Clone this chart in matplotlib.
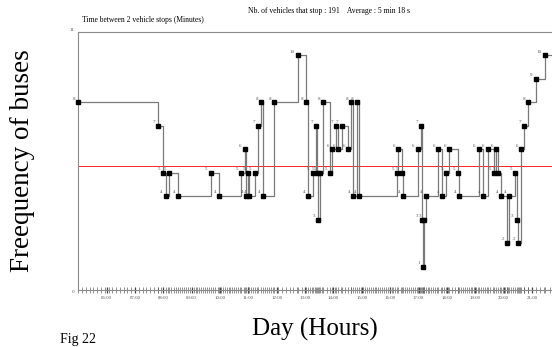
import numpy as np
import matplotlib
matplotlib.use("Agg")
import matplotlib.pyplot as plt

# ---------------- data ----------------
# time of each change, and the interval (minutes) between 2 vehicle stops from then on
CHANGE_TIMES = [
    "05:00", "07:49", "08:00", "08:05", "08:12", "08:32", "09:40", "09:58",
    "10:45", "10:52", "10:55", "10:59", "11:02", "11:13", "11:20", "11:27",
    "11:31", "11:55", "12:44", "13:02", "13:07", "13:16", "13:23", "13:25",
    "13:27", "13:31", "13:38", "13:53", "13:57", "14:05", "14:10", "14:17",
    "14:31", "14:38", "14:42", "14:49", "14:55", "16:14", "16:17", "16:24",
    "16:28", "16:58", "17:05", "17:07", "17:09", "17:12", "17:15", "17:41",
    "17:50", "17:58", "18:05", "18:24", "18:26", "19:07", "19:17", "19:26",
    "19:40", "19:44", "19:48", "19:55", "20:08", "20:12", "20:24", "20:28",
    "20:31", "20:37", "20:44", "20:52", "21:08", "21:28",
]
INTERVALS = [
    8, 7, 5, 4, 5, 4, 5, 4,
    5, 6, 4, 5, 4, 5, 7, 8,
    4, 8, 10, 8, 4, 5, 7, 5,
    3, 5, 8, 5, 6, 7, 6, 7,
    6, 8, 4, 8, 4, 5, 6, 5,
    4, 6, 7, 3, 1, 3, 4, 6,
    4, 5, 6, 5, 4, 6, 4, 6,
    5, 6, 5, 4, 2, 4, 5, 3,
    2, 6, 7, 8, 9, 10,
]
HOUR_LABELS = ["06:00", "07:00", "08:00", "09:00", "10:00", "11:00", "12:00", "13:00",
               "14:00", "15:00", "16:00", "17:00", "18:00", "19:00", "20:00", "21:00"]
N_VEHICLES = 191
AVERAGE_MIN = 5 + 18 / 60.0

X_START, X_END = 5.0, 22.0
OUTFILE = "out.png"

SERIF = ["Liberation Serif", "DejaVu Serif"]


def to_hours(hhmm):
    h, m = hhmm.split(":")
    return int(h) + int(m) / 60.0


def main():
    t = np.array([to_hours(s) for s in CHANGE_TIMES])
    v = np.array(INTERVALS, dtype=float)
    hours = [to_hours(s) for s in HOUR_LABELS]

    # stop times implied by the intervals (one axis tick per vehicle)
    ends = list(t[1:]) + [X_END]
    stops = []
    for start, end, dv in zip(t, ends, v):
        s = start
        while s < end - 1e-9:
            stops.append(s)
            s += dv / 60.0

    fig = plt.figure(figsize=(5.52, 3.47), dpi=100)
    ax = fig.add_axes([0.1419, 0.1643, 0.8731, 0.7443])

    line_x = np.append(t, X_END)
    line_y = np.append(v, v[-1])
    ax.step(line_x, line_y, where="post", color="#7a7a7a", lw=0.9, zorder=2)
    ax.plot(t, v, "s", color="black", ms=3.2, zorder=3, clip_on=False)
    for ti, vi in zip(t, v):
        ax.annotate(f"{int(vi)}", (ti, vi), xytext=(-2.2, 2.6), textcoords="offset points",
                    ha="right", va="center", fontsize=3.6, color="#555566",
                    family=SERIF)

    ax.axhline(AVERAGE_MIN, color="red", lw=0.6, zorder=1)

    ax.set_xlim(X_START, X_END)
    ax.set_ylim(0, 11)

    for side in ["left", "top", "bottom"]:
        ax.spines[side].set_color("#8a8a8a")
        ax.spines[side].set_linewidth(0.8)
    ax.spines["right"].set_visible(False)

    ax.set_yticks([0, 11])
    ax.set_yticklabels(["0", "11"], fontsize=3.6, color="#555555", family=SERIF)
    ax.tick_params(axis="y", length=0, pad=3)
    ylabs = ax.get_yticklabels()
    ylabs[0].set_va("top")
    ylabs[1].set_va("bottom")

    ax.set_xticks(hours)
    ax.set_xticklabels(HOUR_LABELS, fontsize=3.5, color="#555555", family=SERIF)
    ax.set_xticks(stops, minor=True)
    ax.tick_params(axis="x", which="major", direction="inout", length=5, width=0.9,
                   color="#444444", pad=1.5)
    ax.tick_params(axis="x", which="minor", direction="inout", length=4.5, width=0.45,
                   color="#555555")

    fig.text(329 / 552, 1 - 11 / 347,
             f"Nb. of vehicles that stop : {N_VEHICLES}    Average : 5 min 18 s",
             ha="center", va="center", fontsize=5.5, family=SERIF)
    fig.text(82 / 552, 1 - 20 / 347, "Time between 2 vehicle stops (Minutes)",
             ha="left", va="center", fontsize=5.5, family=SERIF)

    fig.text(23 / 552, 1 - 161 / 347, "Freequency of buses", rotation=90,
             ha="center", va="center", fontsize=19.5, family=SERIF)
    fig.text(315 / 552, 1 - 329 / 347, "Day (Hours)",
             ha="center", va="center", fontsize=18, family=SERIF)
    fig.text(60 / 552, 1 / 347, "Fig 22",
             ha="left", va="bottom", fontsize=10, family=SERIF)

    fig.savefig(OUTFILE, dpi=100, facecolor="white")


if __name__ == "__main__":
    main()
